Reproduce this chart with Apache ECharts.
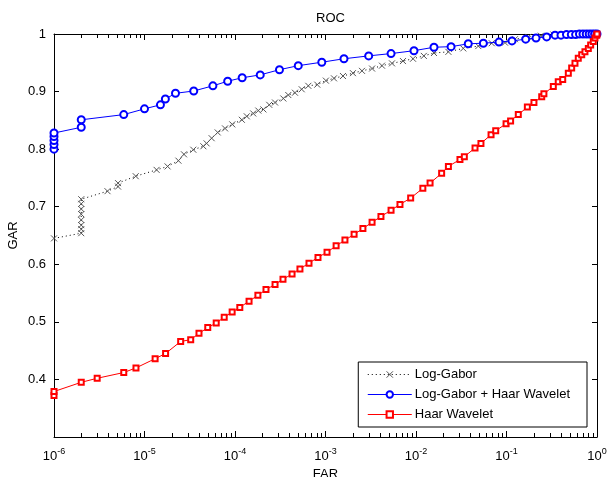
<!DOCTYPE html>
<html>
<head>
<meta charset="utf-8">
<script src="https://cdn.jsdelivr.net/npm/echarts@6/dist/echarts.min.js"></script>
<style>html,body{margin:0;padding:0;background:#fff}#c{width:607px;height:477px}</style>
</head>
<body>
<div id="c"></div>
<script>
// ---- data ----
const seriesNames = ['Log-Gabor', 'Log-Gabor + Haar Wavelet', 'Haar Wavelet'];

const farLogGabor = [1e-6,
  2e-6, 2e-6, 2e-6, 2e-6, 2e-6, 2e-6, 2e-6, 2e-6,
  3.9e-6, 5.1e-6, 5.1e-6, 8.0e-6, 1.36e-5, 1.8e-5, 2.37e-5, 2.73e-5, 3.46e-5, 4.47e-5, 4.86e-5, 5.52e-5, 6.44e-5, 7.76e-5, 9.33e-5,
  1.19e-4, 1.35e-4, 1.59e-4, 1.81e-4, 2.06e-4, 2.39e-4, 2.77e-4, 3.42e-4, 3.88e-4, 4.60e-4, 5.46e-4, 6.46e-4, 8.11e-4,
  1.01e-3, 1.24e-3, 1.56e-3, 2.01e-3, 2.53e-3, 3.27e-3, 4.21e-3, 5.43e-3, 7.18e-3, 9.27e-3,
  1.22e-2, 1.58e-2, 2.28e-2, 3.33e-2, 4.88e-2, 6.87e-2, 9.62e-2,
  0.124, 0.174, 0.24, 0.33, 0.45, 0.63, 0.79, 1];
const garLogGabor = [0.645,
  0.654, 0.661, 0.668, 0.677, 0.687, 0.696, 0.705, 0.713,
  0.727, 0.735, 0.741, 0.753, 0.764, 0.770, 0.780, 0.791, 0.799, 0.805, 0.810, 0.819, 0.829, 0.836, 0.843,
  0.851, 0.857, 0.862, 0.867, 0.869, 0.877, 0.881, 0.888, 0.894, 0.898, 0.904, 0.910, 0.912,
  0.919, 0.923, 0.927, 0.932, 0.936, 0.940, 0.945, 0.949, 0.953, 0.957,
  0.962, 0.967, 0.969, 0.975, 0.979, 0.984, 0.985,
  0.991, 0.995, 0.997, 0.999, 1, 1, 1, 1];

const farCombined = [1e-6, 1e-6, 1e-6, 1e-6, 1e-6, 2e-6, 2e-6, 5.9e-6,
  1.0e-5, 1.5e-5, 1.7e-5, 2.2e-5, 3.5e-5, 5.7e-5, 8.3e-5, 1.2e-4, 1.9e-4, 3.1e-4, 5.0e-4, 9.1e-4, 1.6e-3, 3.0e-3, 5.3e-3, 9.5e-3,
  0.0158, 0.0244, 0.0378, 0.0555, 0.0826, 0.115, 0.163, 0.212, 0.278, 0.344,
  0.40, 0.46, 0.52, 0.58, 0.64, 0.70, 0.76, 0.82, 0.88, 0.94, 1];
const garCombined = [0.800, 0.808, 0.815, 0.822, 0.828, 0.838, 0.851, 0.860,
  0.870, 0.877, 0.887, 0.897, 0.901, 0.910, 0.918, 0.924, 0.929, 0.938, 0.945, 0.951, 0.957, 0.962, 0.966, 0.971,
  0.977, 0.978, 0.983, 0.984, 0.986, 0.988, 0.991, 0.993, 0.995, 0.998,
  0.998, 0.999, 0.999, 0.999, 1, 1, 1, 1, 1, 1, 1];

const farHaar = [1e-6, 1e-6, 2e-6, 3.0e-6, 5.9e-6, 8.05e-6, 1.31e-5, 1.71e-5, 2.51e-5, 3.24e-5,
  4.0e-5, 5.0e-5, 6.2e-5, 7.6e-5, 9.3e-5, 1.13e-4, 1.43e-4, 1.79e-4, 2.20e-4, 2.77e-4, 3.39e-4, 4.27e-4, 5.22e-4, 6.57e-4, 8.26e-4,
  1.04e-3, 1.31e-3, 1.64e-3, 2.07e-3, 2.59e-3, 3.27e-3, 4.10e-3, 5.30e-3, 6.65e-3, 8.73e-3,
  1.19e-2, 1.43e-2, 1.92e-2, 2.28e-2, 3.06e-2, 3.42e-2, 4.49e-2, 5.22e-2, 6.75e-2, 7.60e-2, 9.89e-2,
  0.111, 0.135, 0.170, 0.201, 0.245, 0.259, 0.329, 0.373, 0.418, 0.482, 0.525, 0.571, 0.621, 0.678, 0.736, 0.802, 0.851, 0.910, 0.950, 0.993, 1];
const garHaar = [0.372, 0.379, 0.395, 0.402, 0.412, 0.420, 0.436, 0.445, 0.466, 0.469,
  0.480, 0.490, 0.498, 0.508, 0.517, 0.525, 0.536, 0.546, 0.556, 0.565, 0.574, 0.583, 0.592, 0.602, 0.612,
  0.621, 0.632, 0.642, 0.652, 0.662, 0.673, 0.683, 0.694, 0.704, 0.715,
  0.732, 0.741, 0.758, 0.770, 0.782, 0.787, 0.802, 0.810, 0.825, 0.832, 0.844,
  0.849, 0.860, 0.873, 0.881, 0.891, 0.896, 0.909, 0.917, 0.921, 0.932, 0.941, 0.949, 0.958, 0.964, 0.969, 0.975, 0.981, 0.987, 0.993, 0.998, 1];

// axis settings
const xMin = 1e-6, xMax = 1;
const yMin = 0.3, yMax = 1, yStep = 0.1;
const minorDecades = [1e-6, 1e-5, 1e-4, 1e-3, 1e-2, 1e-1];
const minorMultipliers = [2, 3, 4, 5, 6, 7, 8, 9];

// ---- build ----
const pairs = (xs, ys) => xs.map((x, i) => [x, ys[i]]);
const minorTicks = [];
minorDecades.forEach(d => minorMultipliers.forEach(m => minorTicks.push([m * d, yMin])));

const FONT = 'Liberation Sans, Arial, Helvetica, sans-serif';
const chart = echarts.init(document.getElementById('c'), null, {renderer: 'canvas'});

const option = {
  backgroundColor: '#fff',
  animation: false,
  textStyle: {fontFamily: FONT, color: '#000'},
  title: {
    text: 'ROC', left: 325.5, top: 7, textAlign: 'center',
    textStyle: {fontFamily: FONT, fontSize: 13, fontWeight: 'normal', color: '#000'}
  },
  grid: {left: 54, right: 10, top: 34, bottom: 40, containLabel: false, outerBoundsMode: 'none'},
  xAxis: [{
    type: 'log', logBase: 10, min: xMin, max: xMax, position: 'bottom',
    name: 'FAR', nameLocation: 'middle', nameGap: 31, nameMoveOverlap: false,
    nameTextStyle: {fontFamily: FONT, fontSize: 13, color: '#000'},
    axisLine: {show: true, lineStyle: {color: '#000', width: 1}},
    axisTick: {show: true, inside: true, length: 6, lineStyle: {color: '#000'}},
    splitLine: {show: false},
    axisLabel: {
      margin: 10, color: '#000', fontFamily: FONT,
      formatter: v => '{b|10}{e|' + Math.round(Math.log10(v)) + '}',
      rich: {
        b: {fontSize: 13, fontFamily: FONT, color: '#000', verticalAlign: 'bottom', lineHeight: 16},
        e: {fontSize: 9, fontFamily: FONT, color: '#000', verticalAlign: 'top', lineHeight: 16, padding: [0, 0, 6, 0]}
      }
    }
  }, {
    type: 'log', logBase: 10, min: xMin, max: xMax, position: 'top',
    axisLine: {show: true, lineStyle: {color: '#000', width: 1}},
    axisTick: {show: true, inside: true, length: 6, lineStyle: {color: '#000'}},
    axisLabel: {show: false}, splitLine: {show: false}
  }],
  yAxis: [{
    type: 'value', min: yMin, max: yMax, interval: yStep, position: 'left',
    name: 'GAR', nameLocation: 'middle', nameGap: 34, nameRotate: 90, nameMoveOverlap: false,
    nameTextStyle: {fontFamily: FONT, fontSize: 13, color: '#000'},
    axisLine: {show: true, lineStyle: {color: '#000', width: 1}},
    axisTick: {show: true, inside: true, length: 5, lineStyle: {color: '#000'}},
    splitLine: {show: false},
    axisLabel: {showMinLabel: false, margin: 8, fontSize: 13, fontFamily: FONT, color: '#000'}
  }, {
    type: 'value', min: yMin, max: yMax, interval: yStep, position: 'right',
    axisLine: {show: true, lineStyle: {color: '#000', width: 1}},
    axisTick: {show: true, inside: true, length: 5, lineStyle: {color: '#000'}},
    axisLabel: {show: false}, splitLine: {show: false}
  }],
  legend: {
    data: seriesNames,
    orient: 'vertical', right: 20, bottom: 50,
    backgroundColor: '#fff', borderColor: '#000', borderWidth: 1, borderRadius: 0,
    padding: [6, 17, 6, 9],
    itemWidth: 44, itemHeight: 8, itemGap: 7,
    lineStyle: {width: 1},
    itemStyle: {borderWidth: 1},
    textStyle: {fontFamily: FONT, fontSize: 13, color: '#000', padding: [0, 0, 0, -2]}
  },
  series: [{
    name: seriesNames[0], type: 'line', data: pairs(farLogGabor, garLogGabor),
    symbol: 'path://M0,0L10,10M10,0L0,10', symbolSize: 6,
    itemStyle: {color: '#000', borderColor: '#555', borderWidth: 1},
    lineStyle: {color: '#000', width: 1, type: [1, 3]},
    clip: false, z: 3
  }, {
    name: seriesNames[1], type: 'line', data: pairs(farCombined, garCombined),
    symbol: 'emptyCircle', symbolSize: 7,
    itemStyle: {color: '#0000ff', borderColor: '#0000ff', borderWidth: 1},
    lineStyle: {color: '#0000ff', width: 1},
    clip: false, z: 4
  }, {
    name: seriesNames[2], type: 'line', data: pairs(farHaar, garHaar),
    symbol: 'emptyRect', symbolSize: 5,
    itemStyle: {color: '#ff0000', borderColor: '#ff0000', borderWidth: 1},
    lineStyle: {color: '#ff0000', width: 1},
    clip: false, z: 5
  }, {
    name: 'minorTicks', type: 'custom', data: minorTicks, silent: true, clip: false, z: 2,
    encode: {x: 0, y: 1},
    renderItem: (params, api) => {
      const v = api.value(0);
      const b = api.coord([v, yMin]);
      const t = api.coord([v, yMax]);
      const x = Math.round(b[0]) + 0.5;
      return {type: 'group', children: [
        {type: 'line', shape: {x1: x, y1: b[1], x2: x, y2: b[1] - 4}, style: {stroke: '#000', lineWidth: 1}},
        {type: 'line', shape: {x1: x, y1: t[1], x2: x, y2: t[1] + 4}, style: {stroke: '#000', lineWidth: 1}}
      ]};
    }
  }]
};
chart.setOption(option);
</script>
</body>
</html>
